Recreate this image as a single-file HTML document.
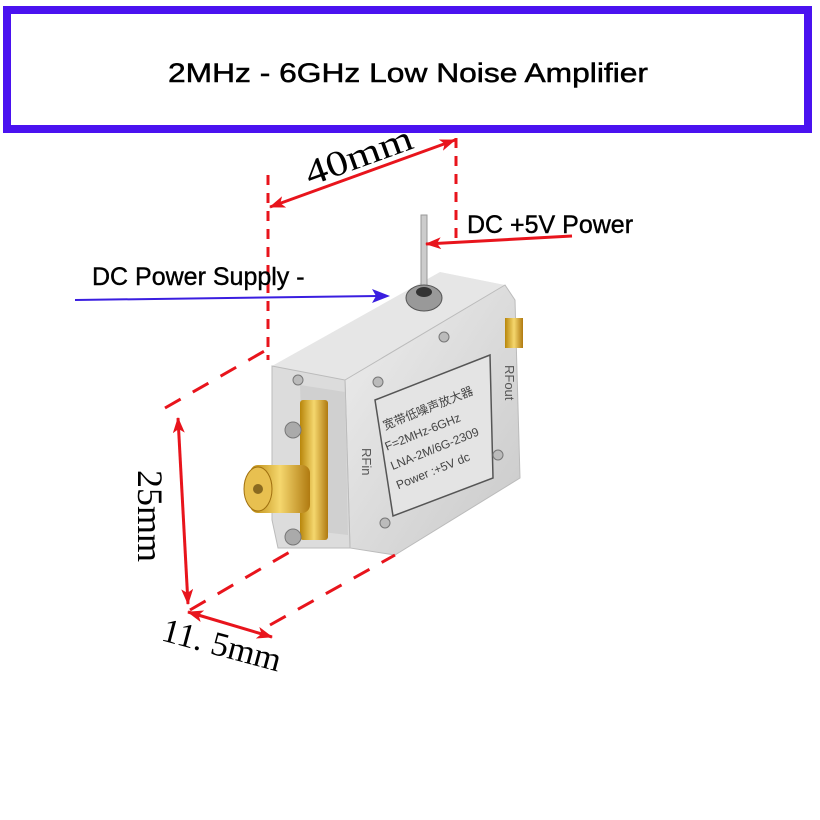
<!DOCTYPE html>
<html><head><meta charset="utf-8"><style>
html,body{margin:0;padding:0;background:#fff;width:820px;height:820px;overflow:hidden}
</style></head><body>
<svg width="820" height="820" viewBox="0 0 820 820" xmlns="http://www.w3.org/2000/svg" font-family="Liberation Sans, sans-serif">
<defs>
<linearGradient id="al" x1="0" y1="0" x2="1" y2="1"><stop offset="0" stop-color="#eeeeee"/><stop offset="1" stop-color="#c9c9c9"/></linearGradient>
<linearGradient id="au" x1="0" y1="0" x2="1" y2="0"><stop offset="0" stop-color="#b8860b"/><stop offset="0.5" stop-color="#f5d76e"/><stop offset="1" stop-color="#b07a10"/></linearGradient>
<marker id="ar" markerWidth="16" markerHeight="12" refX="15" refY="6" orient="auto-start-reverse" markerUnits="userSpaceOnUse" viewBox="0 0 16 12"><path d="M0,0 L16,6 L0,12 L4,6 z" fill="#e8141c"/></marker>
</defs>
<rect x="7" y="10" width="801" height="119" fill="#fff" stroke="#4a12f0" stroke-width="8"/>
<text x="408" y="82" font-size="27" text-anchor="middle" textLength="480" lengthAdjust="spacingAndGlyphs" fill="#000" stroke="#000" stroke-width="0.5">2MHz - 6GHz Low Noise Amplifier</text>

<!-- body -->
<polygon points="272,366 440,272 505,285 345,380" fill="#e6e6e6"/>
<polygon points="345,380 505,285 515,300 520,478 395,555 350,548" fill="url(#al)" stroke="#bbb"/>
<polygon points="272,366 345,380 350,548 278,548 272,520" fill="#dcdcdc" stroke="#bbb"/>
<polygon points="300,385 345,392 348,535 305,530" fill="#d0d0d0"/>
<polygon points="375,400 490,355 493,478 393,516" fill="#e4e4e4" stroke="#555" stroke-width="1.5"/>
<g transform="translate(385,430) rotate(-22)" font-size="12" fill="#444">
<text x="0" y="0" font-family="Noto Sans CJK SC, sans-serif">宽带低噪声放大器</text>
<text x="-6" y="20">F=2MHz-6GHz</text>
<text x="-8" y="40">LNA-2M/6G-2309</text>
<text x="-10" y="60">Power :+5V dc</text>
</g>
<text transform="translate(505,365) rotate(90)" font-size="13" fill="#555">RFout</text>
<text transform="translate(362,448) rotate(90)" font-size="13" fill="#555">RFin</text>
<!-- connectors -->
<rect x="505" y="318" width="18" height="30" fill="url(#au)"/>
<rect x="300" y="400" width="28" height="140" fill="url(#au)" rx="3"/>
<rect x="250" y="465" width="60" height="48" fill="url(#au)" rx="8"/>
<ellipse cx="258" cy="489" rx="14" ry="22" fill="#e8c050" stroke="#a07010"/>
<circle cx="258" cy="489" r="5" fill="#8a6a20"/>
<circle cx="293" cy="430" r="8" fill="#aaa" stroke="#777"/>
<circle cx="293" cy="537" r="8" fill="#aaa" stroke="#777"/>
<circle cx="378" cy="382" r="5" fill="#bbb" stroke="#777"/>
<circle cx="444" cy="337" r="5" fill="#bbb" stroke="#777"/>
<circle cx="498" cy="455" r="5" fill="#bbb" stroke="#777"/>
<circle cx="385" cy="523" r="5" fill="#bbb" stroke="#777"/>
<circle cx="298" cy="380" r="5" fill="#bbb" stroke="#777"/>
<!-- pin -->
<rect x="421" y="215" width="6" height="75" fill="#ccc" stroke="#999"/>
<ellipse cx="424" cy="298" rx="18" ry="13" fill="#999" stroke="#555"/>
<ellipse cx="424" cy="292" rx="8" ry="5" fill="#333"/>

<!-- red dims -->
<g stroke="#e8141c" stroke-width="3" fill="none">
<line x1="268" y1="175" x2="268" y2="360" stroke-dasharray="10,8"/>
<line x1="456" y1="138" x2="456" y2="240" stroke-dasharray="10,8"/>
<line x1="270" y1="207" x2="455" y2="140" marker-start="url(#ar)" marker-end="url(#ar)"/>
<line x1="572" y1="236" x2="426" y2="244" marker-end="url(#ar)"/>
<line x1="178" y1="418" x2="188" y2="604" marker-start="url(#ar)" marker-end="url(#ar)"/>
<line x1="165" y1="408" x2="275" y2="345" stroke-dasharray="18,14"/>
<line x1="190" y1="610" x2="300" y2="546" stroke-dasharray="18,14"/>
<line x1="270" y1="625" x2="395" y2="555" stroke-dasharray="18,14"/>
<line x1="188" y1="612" x2="272" y2="637" marker-start="url(#ar)" marker-end="url(#ar)"/>
</g>
<line x1="75" y1="300" x2="378" y2="296" stroke="#3a1ee0" stroke-width="2"/>
<path d="M372,289 L390,296 L372,303 L376,296 z" fill="#3a1ee0"/>
<text x="92" y="285" font-size="25" fill="#000" stroke="#000" stroke-width="0.4">DC Power Supply -</text>
<text x="467" y="233" font-size="25" fill="#000" stroke="#000" stroke-width="0.4">DC +5V Power</text>
<text transform="translate(310,186) rotate(-20)" font-size="36" font-family="Liberation Serif, serif" fill="#000" textLength="112" lengthAdjust="spacingAndGlyphs">40mm</text>
<text transform="translate(138,470) rotate(90)" font-size="36" font-family="Liberation Serif, serif" fill="#000" textLength="92" lengthAdjust="spacingAndGlyphs">25mm</text>
<text transform="translate(160,640) rotate(15)" font-size="34" font-family="Liberation Serif, serif" fill="#000" textLength="122" lengthAdjust="spacingAndGlyphs">11. 5mm</text>
</svg>
</body></html>
